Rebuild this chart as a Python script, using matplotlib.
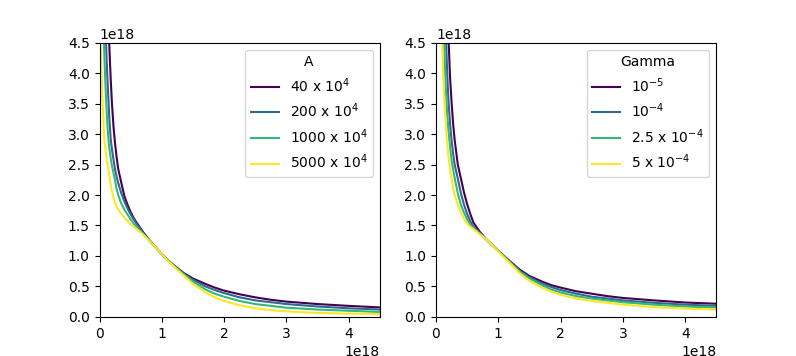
import numpy as np
import matplotlib
matplotlib.use("Agg")
import matplotlib.pyplot as plt

# x positions (units of 1e18) shared by every curve
x = np.array([0.01, 0.02, 0.03, 0.04, 0.05, 0.06, 0.07, 0.08, 0.09, 0.1, 0.115,
              0.13, 0.145, 0.16, 0.18, 0.2, 0.225, 0.25, 0.275, 0.3, 0.35, 0.4,
              0.45, 0.5, 0.55, 0.6, 0.7, 0.8, 0.9, 1.0, 1.1, 1.2, 1.35,
              1.5, 1.7, 1.85, 2.0, 2.25, 2.5, 2.75, 3.0, 3.5, 4.0, 4.5])

# left panel: parameter A (y in units of 1e18)
a_labels = ["40 x $10^4$", "200 x $10^4$", "1000 x $10^4$", "5000 x $10^4$"]
a_40 = [70, 35, 23.3, 17.5, 14, 11.7, 10, 8.75, 7.8, 7.0, 6.1,
        5.4, 4.83, 4.38, 3.9, 3.5, 3.12, 2.84, 2.62, 2.43, 2.2, 1.98,
        1.84, 1.72, 1.62, 1.54, 1.39, 1.26, 1.14, 1.03, 0.93, 0.84, 0.72,
        0.63, 0.54, 0.48, 0.43, 0.37, 0.32, 0.28, 0.25, 0.21, 0.18, 0.155]
a_200 = [45, 22.5, 15, 11.3, 9.0, 7.5, 6.5, 5.7, 5.1, 4.65, 4.2,
         3.85, 3.53, 3.22, 2.92, 2.75, 2.58, 2.42, 2.3, 2.2, 2.03, 1.89,
         1.78, 1.68, 1.6, 1.52, 1.38, 1.26, 1.14, 1.03, 0.93, 0.83, 0.71,
         0.61, 0.50, 0.44, 0.39, 0.32, 0.27, 0.24, 0.21, 0.17, 0.14, 0.12]
a_1000 = [28, 14, 9.5, 7.5, 6.2, 5.3, 4.6, 4.22, 3.95, 3.7, 3.38,
          3.1, 2.9, 2.75, 2.6, 2.48, 2.36, 2.24, 2.1, 2.0, 1.86, 1.76,
          1.68, 1.6, 1.53, 1.47, 1.36, 1.25, 1.14, 1.03, 0.93, 0.83, 0.70,
          0.58, 0.45, 0.38, 0.33, 0.26, 0.21, 0.18, 0.15, 0.12, 0.10, 0.08]
a_5000 = [5.5, 4.45, 4.1, 3.8, 3.52, 3.28, 3.05, 2.9, 2.8, 2.72, 2.6,
          2.5, 2.4, 2.3, 2.17, 2.06, 1.96, 1.88, 1.81, 1.76, 1.69, 1.63,
          1.57, 1.52, 1.48, 1.44, 1.35, 1.25, 1.14, 1.03, 0.92, 0.82, 0.68,
          0.54, 0.40, 0.32, 0.26, 0.19, 0.14, 0.11, 0.09, 0.065, 0.052, 0.045]

# right panel: parameter Gamma
g_labels = ["$10^{-5}$", "$10^{-4}$", "2.5 x $10^{-4}$", "5 x $10^{-4}$"]
g_1e5 = [90, 45, 30, 22.5, 18, 15, 12.9, 11.3, 10, 9.0, 7.8,
         6.9, 6.2, 5.7, 5.1, 4.6, 3.95, 3.52, 3.17, 2.9, 2.5, 2.27,
         2.04, 1.85, 1.69, 1.55, 1.40, 1.28, 1.18, 1.08, 0.99, 0.9, 0.77,
         0.67, 0.58, 0.52, 0.48, 0.42, 0.38, 0.34, 0.31, 0.27, 0.235, 0.215]
g_1e4 = [72, 36, 24, 18, 14.4, 12, 10.3, 9.0, 8.0, 7.2, 6.3,
         5.6, 5.05, 4.6, 4.0, 3.55, 3.18, 2.9, 2.68, 2.5, 2.27, 2.03,
         1.84, 1.69, 1.57, 1.48, 1.38, 1.28, 1.18, 1.08, 0.99, 0.89, 0.75,
         0.65, 0.55, 0.49, 0.44, 0.38, 0.33, 0.30, 0.27, 0.23, 0.20, 0.18]
g_25e4 = [59, 29.5, 19.7, 14.8, 11.8, 9.8, 8.4, 7.4, 6.55, 5.9, 5.13,
          4.55, 4.07, 3.7, 3.33, 3.06, 2.8, 2.57, 2.42, 2.28, 2.03, 1.84,
          1.71, 1.6, 1.51, 1.46, 1.37, 1.28, 1.18, 1.08, 0.98, 0.88, 0.74,
          0.63, 0.52, 0.45, 0.40, 0.34, 0.30, 0.27, 0.24, 0.20, 0.17, 0.15]
g_5e4 = [45, 22.5, 15, 11.3, 9.0, 7.5, 6.45, 5.65, 5.0, 4.5, 4.0,
         3.65, 3.35, 3.12, 2.85, 2.63, 2.43, 2.27, 2.12, 2.0, 1.84, 1.71,
         1.61, 1.53, 1.48, 1.44, 1.36, 1.28, 1.18, 1.07, 0.97, 0.87, 0.71,
         0.59, 0.48, 0.41, 0.36, 0.30, 0.26, 0.23, 0.20, 0.16, 0.135, 0.12]

scale = 1e18
colors = plt.cm.viridis(np.linspace(0, 1, 4))

fig, (ax1, ax2) = plt.subplots(1, 2, figsize=(7.96, 3.56), dpi=100)

for ys, lab, c in zip([a_40, a_200, a_1000, a_5000], a_labels, colors):
    ax1.plot(x * scale, np.array(ys) * scale, color=c, label=lab)
ax1.set_xlim(0, 4.5e18)
ax1.set_ylim(0, 4.5e18)
ax1.legend(title="A", loc="upper right")

for ys, lab, c in zip([g_1e5, g_1e4, g_25e4, g_5e4], g_labels, colors):
    ax2.plot(x * scale, np.array(ys) * scale, color=c, label=lab)
ax2.set_xlim(0, 4.5e18)
ax2.set_ylim(0, 4.5e18)
ax2.legend(title="Gamma", loc="upper right")

plt.savefig("out.png")
